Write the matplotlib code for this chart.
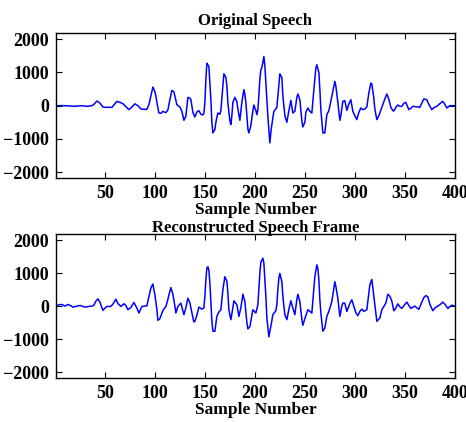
import matplotlib
matplotlib.use('Agg')
import matplotlib.pyplot as plt

# speech frame at key samples
orig_n = [1, 10, 20, 27, 32, 37, 39, 42, 45, 48, 50, 57, 59, 62, 65, 68, 71, 74, 77, 80,
          83, 86, 89, 92, 94, 96, 98, 100, 101, 102, 104, 106, 108, 110, 111, 113, 115, 117, 119, 121,
          122, 125, 127, 129, 131, 133, 135, 136, 138, 140, 142, 144, 146, 148, 149, 150, 151, 152, 154, 155,
          156, 157, 158, 160, 161, 163, 165, 166, 168, 169, 171, 172, 173, 175, 176, 177, 178, 180, 182, 183,
          185, 187, 189, 190, 191, 193, 194, 196, 198, 199, 201, 202, 203, 204, 205, 206, 207, 208, 209, 210,
          211, 213, 215, 216, 217, 219, 221, 222, 224, 225, 227, 228, 230, 232, 234, 236, 238, 240, 242, 243,
          245, 247, 248, 250, 251, 253, 255, 257, 259, 261, 262, 264, 265, 266, 268, 270, 272, 274, 277, 280,
          281, 283, 285, 286, 288, 290, 292, 294, 296, 298, 300, 302, 304, 306, 308, 310, 312, 314, 316, 317,
          319, 320, 322, 324, 325, 328, 330, 332, 334, 336, 338, 339, 341, 343, 345, 347, 349, 351, 354, 356,
          358, 361, 365, 367, 369, 372, 374, 377, 379, 382, 385, 388, 390, 392, 395, 400]
orig_val = [0, 0, -20, 0, -20, 0, 40, 140, 80, -40, -50, -50, 20, 130, 100, 60, -30, -120, -40, 55,
            0, -100, -110, -110, 30, 300, 560, 420, 280, 100, -220, -230, -170, -200, -210, -130, 180, 460, 420, 150,
            30, -40, -170, -440, -320, 250, 230, 180, -200, -340, -190, -150, -260, -280, -230, 100, 800, 1280, 1180, 700,
            180, -500, -820, -720, -500, -220, -260, -150, 600, 960, 850, 600, 80, -450, -570, -300, 100, 250, 120, -100,
            -440, 100, 480, 350, 100, -700, -820, -600, -150, 20, -150, -270, -120, 300, 800, 1080, 1150, 1300, 1480, 1200,
            680, -320, -1120, -800, -570, -170, -100, -50, 600, 960, 850, 300, -300, -500, -150, 160, -220, -170, 250, 350,
            180, -450, -640, -500, -200, -70, -170, -220, 480, 1130, 1230, 1000, 500, -120, -820, -820, -270, -150, 280, 730,
            600, 100, -440, -300, 130, 150, -140, 50, 180, -170, -300, -420, -200, -70, -120, -100, -40, 380, 680, 650,
            230, -100, -420, -300, -220, 30, 200, 350, 200, -50, -150, -160, -50, 20, -20, -20, 70, 100, -120, -80,
            -20, -30, -50, 80, 200, 180, 40, -120, -60, -20, 60, 130, 40, -70, 0, 0]

recon_n = [1, 4, 7, 10, 13, 16, 18, 22, 25, 30, 34, 37, 39, 41, 43, 45, 47, 48, 50, 52,
           56, 58, 61, 63, 66, 69, 71, 73, 76, 79, 82, 84, 87, 92, 94, 96, 98, 100, 102, 103,
           105, 108, 111, 113, 114, 116, 118, 120, 121, 123, 126, 129, 131, 133, 135, 137, 139, 140, 142, 144,
           147, 149, 150, 151, 152, 153, 154, 155, 156, 157, 158, 160, 162, 164, 166, 168, 170, 172, 173, 174,
           176, 178, 179, 182, 184, 186, 188, 190, 192, 193, 195, 198, 201, 203, 204, 205, 206, 208, 209, 210,
           211, 212, 214, 216, 218, 221, 222, 223, 224, 225, 227, 228, 230, 232, 234, 236, 238, 240, 242, 243,
           245, 247, 248, 250, 253, 255, 257, 259, 260, 262, 263, 264, 265, 266, 268, 270, 272, 274, 277, 280,
           281, 283, 285, 287, 288, 290, 292, 295, 297, 299, 301, 303, 305, 307, 309, 312, 314, 315, 317, 319,
           321, 322, 325, 327, 331, 333, 335, 337, 339, 341, 343, 345, 347, 350, 352, 354, 356, 360, 362, 364,
           366, 369, 371, 373, 375, 378, 380, 382, 385, 388, 390, 393, 395, 397, 400]
recon_val = [0, 40, 50, 0, 50, 10, -30, 0, 20, -30, -10, 0, 30, 150, 220, 120, -50, -130, -60, -10,
             -10, 60, 210, 80, -10, 70, 20, -110, -40, 110, -60, -210, -10, 10, 290, 550, 670, 340, -100, -430,
             -380, -130, -10, 200, 340, 560, 360, 0, -210, -10, 90, -260, -50, 240, 100, -200, -480, -460, -280, -30,
             -90, -60, 300, 800, 1150, 1190, 1090, 700, 140, -450, -760, -760, -310, -180, -110, 500, 890, 760, 400, -110,
             -410, -50, 160, 40, -310, -50, 360, 140, -500, -690, -620, -110, -210, 40, 500, 1000, 1330, 1450, 1300, 800,
             300, -360, -930, -610, -260, -140, 50, 500, 850, 990, 740, 300, -260, -410, -100, 160, -60, -260, 200, 360,
             140, -400, -580, -380, -110, -160, -210, 550, 900, 1250, 1140, 800, 200, -200, -760, -660, -310, -160, 140, 740,
             600, 240, -310, 0, 90, 90, -160, 80, 190, -10, -200, -290, -160, -90, -160, -110, 400, 640, 810, 290,
             -200, -460, -360, -110, 90, 360, 300, 150, -140, -60, 70, -20, -70, 50, 120, 20, -70, 0, -50, -100,
             50, 260, 320, 280, 60, -140, -60, -20, 40, 120, 60, -70, -20, 30, 0]

x_ticks = [50, 100, 150, 200, 250, 300, 350, 400]
y_ticks = [-2000, -1000, 0, 1000, 2000]

plt.rcParams['font.family'] = ['Liberation Serif', 'DejaVu Serif']
plt.rcParams['font.weight'] = 'bold'
plt.rcParams['font.size'] = 12

fig = plt.figure(figsize=(4.66, 4.22), dpi=100)
ax1 = fig.add_axes([0.120, 0.578, 0.856, 0.344])
ax2 = fig.add_axes([0.120, 0.104, 0.856, 0.342])

for ax, n, v, ttl, tpad in [(ax1, orig_n, orig_val, 'Original Speech', 6),
                            (ax2, recon_n, recon_val, 'Reconstructed Speech Frame', 1.5)]:
    ax.plot(n, v, color='#0000ff', lw=1.1)
    ax.set_xlim(1, 400)
    ax.set_ylim(-2180, 2190)
    ax.set_xticks(x_ticks)
    ax.set_yticks(y_ticks)
    ax.tick_params(direction='in', top=True, right=True, length=4, width=0.8,
                   labelsize=13, pad=5)
    for lab in ax.get_xticklabels() + ax.get_yticklabels():
        lab.set_fontweight('bold')
    ax.set_xlabel('Sample Number', fontweight='bold', fontsize=12.5, labelpad=0)
    ax.set_title(ttl, fontweight='bold', fontsize=12, pad=tpad)
    for sp in ax.spines.values():
        sp.set_linewidth(1.0)

plt.savefig('out.png', dpi=100)
